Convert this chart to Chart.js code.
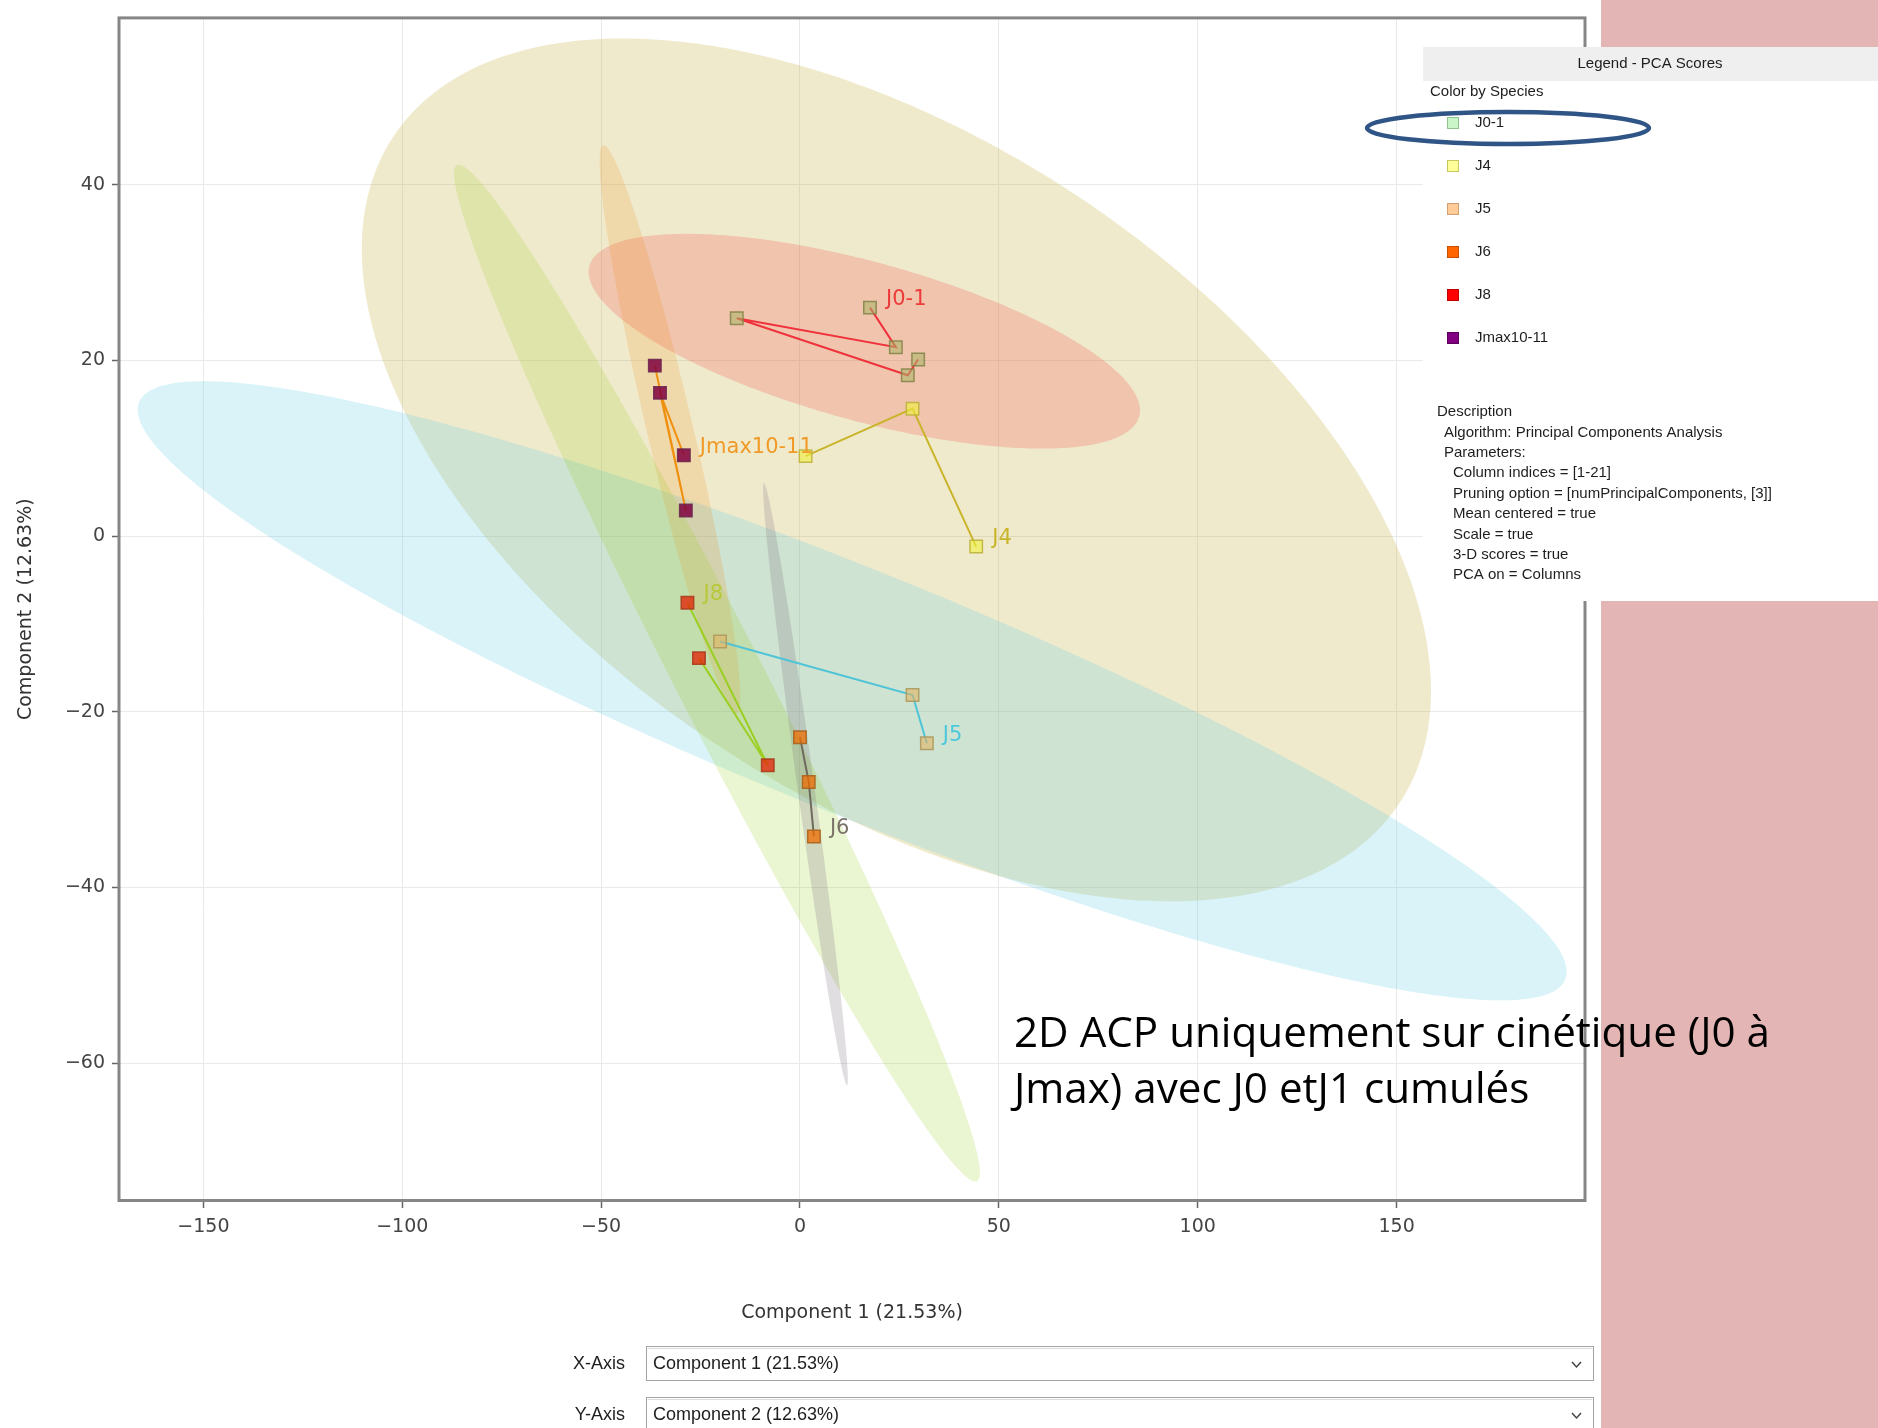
<!DOCTYPE html>
<html>
<head>
<meta charset="utf-8">
<title>PCA Scores</title>
<script src="https://cdn.jsdelivr.net/npm/chart.js@4.4.1/dist/chart.umd.min.js"></script>
<style>
  html, body { margin: 0; padding: 0; background: #ffffff; }
  #wrap { position: relative; width: 1878px; height: 1428px; }
</style>
</head>
<body>
<div id="wrap"><canvas id="pca"></canvas></div>
<script>
// ---- PCA scores (Component 1, Component 2), listed in trajectory order ----
const speciesNames = ['J0-1', 'J4', 'J5', 'J6', 'J8', 'Jmax10-11'];

const j01X  = [17.6, 24.1, -15.9, 27.1, 29.7];
const j01Y  = [26.0, 21.5, 24.8, 18.3, 20.1];
const j4X   = [1.4, 28.3, 44.3];
const j4Y   = [9.1, 14.5, -1.2];
const j5X   = [-20.1, 28.3, 31.9];
const j5Y   = [-12.0, -18.1, -23.6];
const j6X   = [0.0, 2.2, 3.5];
const j6Y   = [-22.9, -28.0, -34.2];
const j8X   = [-28.3, -8.1, -25.4];
const j8Y   = [-7.6, -26.1, -13.9];
const jmaxX = [-29.2, -35.2, -28.7, -36.5];
const jmaxY = [9.2, 16.3, 2.9, 19.4];

// point next to which each trajectory name is written
const labelAt = [0, 2, 2, 2, 0, 0];

// confidence ellipses: centre (x, y), end of major axis (x, y), end of minor axis (x, y)
const ellipseJ01  = [16.17, 22.18, 85.28, 13.61, 10.86, 13.46];
const ellipseJ4   = [24.24, 7.53, 150.58, -30.51, -21.65, -23.54];
const ellipseJ5   = [13.12, -17.62, 192.39, -50.48, 1.66, -30.36];
const ellipseJ6   = [1.38, -28.26, 11.82, -62.54, -0.73, -28.39];
const ellipseJ8   = [-20.87, -15.60, 44.50, -73.44, -30.72, -17.87];
const ellipseJmax = [-32.69, 12.14, -15.92, -20.20, -38.32, 11.54];

// axis ticks
const xTickStep = 50;
const yTickStep = 20;

// axis titles and panel texts
const xTitle = 'Component 1 (21.53%)';
const yTitle = 'Component 2 (12.63%)';
const legendTitle = 'Legend - PCA Scores';
const legendSubtitle = 'Color by Species';
const descriptionLines = [
  ['Description', 0],
  ['Algorithm: Principal Components Analysis', 1],
  ['Parameters:', 1],
  ['Column indices = [1-21]', 2],
  ['Pruning option = [numPrincipalComponents, [3]]', 2],
  ['Mean centered = true', 2],
  ['Scale = true', 2],
  ['3-D scores = true', 2],
  ['PCA on = Columns', 2]
];
const noteLines = ['2D ACP uniquement sur cinétique (J0 à', 'Jmax) avec J0 etJ1 cumulés'];

// ---- styles ----
const seriesX = [j01X, j4X, j5X, j6X, j8X, jmaxX];
const seriesY = [j01Y, j4Y, j5Y, j6Y, j8Y, jmaxY];
const ellipses = [ellipseJ01, ellipseJ4, ellipseJ5, ellipseJ6, ellipseJ8, ellipseJmax];
const ellipseOrder = [1, 2, 0, 5, 4, 3];

const lineColors  = ['#f0323c', '#c9b42a', '#4fc4d8', '#6e6a60', '#9ccf24', '#f0900f'];
const labelColors = ['#ee3a3a', '#c8b428', '#4cc8dc', '#7a7468', '#b8c83a', '#f09a28'];
const markerFill  = ['rgba(170,180,100,0.55)', 'rgba(240,240,60,0.6)', 'rgba(225,180,100,0.6)',
                     'rgba(240,110,0,0.75)', 'rgba(230,30,0,0.75)', 'rgba(128,0,64,0.85)'];
const markerEdge  = ['rgba(130,130,70,0.85)', 'rgba(190,180,60,0.9)', 'rgba(170,150,90,0.85)',
                     'rgba(170,100,30,0.9)', 'rgba(170,60,30,0.9)', 'rgba(110,40,80,0.9)'];
const ellipseFill = ['rgba(235,60,60,0.22)', 'rgba(200,178,70,0.27)', 'rgba(80,200,225,0.22)',
                     'rgba(120,105,120,0.22)', 'rgba(150,205,30,0.20)', 'rgba(240,140,20,0.19)'];
const legendFill  = ['#c9f5c9', '#ffff99', '#ffcc99', '#ff6600', '#ff0000', '#800080'];
const legendEdge  = ['#8fc48f', '#c8c860', '#d0a070', '#c84e00', '#c00000', '#5a005a'];

const minus = v => (v < 0 ? '\u2212' + Math.abs(v) : String(v));

// filled confidence ellipses, drawn under the trajectories
const ellipsePlugin = {
  id: 'confidenceEllipses',
  beforeDatasetsDraw(chart) {
    const { ctx, chartArea: a, scales: { x, y } } = chart;
    ctx.save();
    ctx.beginPath();
    ctx.rect(a.left, a.top, a.right - a.left, a.bottom - a.top);
    ctx.clip();
    ellipseOrder.forEach(i => {
      const e = ellipses[i];
      const cx = x.getPixelForValue(e[0]), cy = y.getPixelForValue(e[1]);
      const ax = x.getPixelForValue(e[2]) - cx, ay = y.getPixelForValue(e[3]) - cy;
      const bx = x.getPixelForValue(e[4]) - cx, by = y.getPixelForValue(e[5]) - cy;
      ctx.beginPath();
      const n = 360;
      for (let k = 0; k <= n; k++) {
        const t = (k / n) * Math.PI * 2;
        const px = cx + ax * Math.cos(t) + bx * Math.sin(t);
        const py = cy + ay * Math.cos(t) + by * Math.sin(t);
        if (k === 0) ctx.moveTo(px, py); else ctx.lineTo(px, py);
      }
      ctx.closePath();
      ctx.fillStyle = ellipseFill[i];
      ctx.fill();
    });
    ctx.restore();
  }
};

// trajectory names written beside one of their points
const labelPlugin = {
  id: 'trajectoryLabels',
  afterDatasetsDraw(chart) {
    const ctx = chart.ctx;
    ctx.save();
    ctx.font = '21px "DejaVu Sans"';
    ctx.textAlign = 'left';
    ctx.textBaseline = 'middle';
    chart.data.datasets.forEach((ds, i) => {
      const pt = chart.getDatasetMeta(i).data[labelAt[i]];
      ctx.fillStyle = labelColors[i];
      ctx.fillText(ds.label, pt.x + 16, pt.y - 8);
    });
    ctx.restore();
  }
};

// frame, side panel, legend/description panel, note and axis selectors
const framePlugin = {
  id: 'frameAndPanels',
  afterDraw(chart) {
    const { ctx, chartArea: a } = chart;
    ctx.save();

    // plot frame
    ctx.strokeStyle = '#868686';
    ctx.lineWidth = 3;
    ctx.strokeRect(a.left - 1, a.top - 0.5, a.right - a.left + 2, a.bottom - a.top + 1);

    // side panel
    ctx.fillStyle = '#e4b5b5';
    ctx.fillRect(1601, 0, 277, 1428);

    // legend panel
    ctx.fillStyle = '#ffffff';
    ctx.fillRect(1423, 47, 455, 554);
    ctx.fillStyle = '#efefef';
    ctx.fillRect(1423, 47, 455, 34);

    ctx.fillStyle = '#1e1e1e';
    ctx.textBaseline = 'middle';
    ctx.font = '15px "Liberation Sans"';
    ctx.textAlign = 'center';
    ctx.fillText(legendTitle, 1650, 64);
    ctx.textAlign = 'left';
    ctx.fillText(legendSubtitle, 1430, 92);

    const rowY = [123, 166, 209, 252, 295, 338];
    speciesNames.forEach((name, i) => {
      ctx.fillStyle = legendFill[i];
      ctx.fillRect(1447, rowY[i] - 6, 12, 12);
      ctx.strokeStyle = legendEdge[i];
      ctx.lineWidth = 1;
      ctx.strokeRect(1447.5, rowY[i] - 5.5, 11, 11);
      ctx.fillStyle = '#1e1e1e';
      ctx.fillText(name, 1475, rowY[i]);
    });

    const indent = [1437, 1444, 1453];
    descriptionLines.forEach(([txt, lvl], k) => {
      ctx.fillText(txt, indent[lvl], 412 + k * 20.4);
    });

    // highlight ring round the first legend entry
    ctx.strokeStyle = '#2f5486';
    ctx.lineWidth = 4.5;
    ctx.beginPath();
    ctx.ellipse(1508, 128, 141, 16, 0, 0, Math.PI * 2);
    ctx.stroke();

    // note
    ctx.fillStyle = '#000000';
    ctx.textAlign = 'left';
    ctx.textBaseline = 'alphabetic';
    ctx.font = '100px "Open Sans"';
    const w = ctx.measureText(noteLines[0]).width;
    const size = 100 * 756 / w;
    ctx.font = size.toFixed(2) + 'px "Open Sans"';
    ctx.fillText(noteLines[0], 1014, 1047);
    ctx.fillText(noteLines[1], 1014, 1103);

    // axis selectors
    const selectors = [['X-Axis', xTitle, 1346], ['Y-Axis', yTitle, 1397]];
    selectors.forEach(([lab, val, top]) => {
      ctx.fillStyle = '#ffffff';
      ctx.fillRect(646, top, 948, 34);
      ctx.strokeStyle = '#a3a3a3';
      ctx.lineWidth = 1;
      ctx.strokeRect(646.5, top + 0.5, 947, 34);
      ctx.strokeStyle = '#dcdcdc';
      ctx.beginPath();
      ctx.moveTo(647.5, top + 2.5); ctx.lineTo(1592.5, top + 2.5);
      ctx.stroke();
      ctx.fillStyle = '#1e1e1e';
      ctx.font = '18px "Liberation Sans"';
      ctx.textBaseline = 'middle';
      ctx.textAlign = 'right';
      ctx.fillText(lab, 625, top + 18);
      ctx.textAlign = 'left';
      ctx.fillText(val, 653, top + 18);
      ctx.strokeStyle = '#444444';
      ctx.lineWidth = 1.5;
      ctx.beginPath();
      ctx.moveTo(1572, top + 16); ctx.lineTo(1576.5, top + 21); ctx.lineTo(1581, top + 16);
      ctx.stroke();
    });

    ctx.restore();
  }
};

const datasets = speciesNames.map((name, i) => ({
  label: name,
  data: seriesX[i].map((x, k) => ({ x: x, y: seriesY[i][k] })),
  showLine: true,
  tension: 0,
  borderColor: lineColors[i],
  borderWidth: 2,
  pointStyle: 'rect',
  pointRadius: 8.8,
  pointBackgroundColor: markerFill[i],
  pointBorderColor: markerEdge[i],
  pointBorderWidth: 1.5
}));

Chart.defaults.font.family = '"DejaVu Sans"';

new Chart(document.getElementById('pca'), {
  type: 'scatter',
  data: { datasets: datasets },
  options: {
    responsive: true,
    maintainAspectRatio: false,
    devicePixelRatio: 1,
    animation: false,
    events: [],
    layout: { padding: { left: 0, top: 15, right: 294, bottom: 0 } },
    plugins: { legend: { display: false }, tooltip: { enabled: false } },
    scales: {
      x: {
        type: 'linear',
        min: -170.97,
        max: 197.12,
        afterFit: s => { s.height = 228; },
        border: { display: false },
        grid: { color: '#e9e9e9', lineWidth: 1, drawTicks: true, tickLength: 8, tickColor: '#666666', tickWidth: 1.5 },
        ticks: { stepSize: xTickStep, includeBounds: false, padding: 8, color: '#444444',
                 font: { family: '"DejaVu Sans"', size: 19 }, callback: v => minus(v) },
        title: { display: true, text: xTitle, color: '#333333',
                 font: { family: '"DejaVu Sans"', size: 19 }, padding: { top: 0, bottom: 104 } }
      },
      y: {
        type: 'linear',
        min: -75.59,
        max: 58.93,
        afterFit: s => { s.width = 120; },
        border: { display: false },
        grid: { color: '#e9e9e9', lineWidth: 1, drawTicks: true, tickLength: 8, tickColor: '#666666', tickWidth: 1.5 },
        ticks: { stepSize: yTickStep, includeBounds: false, padding: 7, color: '#444444',
                 font: { family: '"DejaVu Sans"', size: 19 }, callback: v => minus(v) },
        title: { display: true, text: yTitle, color: '#333333',
                 font: { family: '"DejaVu Sans"', size: 19 }, padding: { top: 15, bottom: 0 } }
      }
    }
  },
  plugins: [ellipsePlugin, labelPlugin, framePlugin]
});
</script>
</body>
</html>
